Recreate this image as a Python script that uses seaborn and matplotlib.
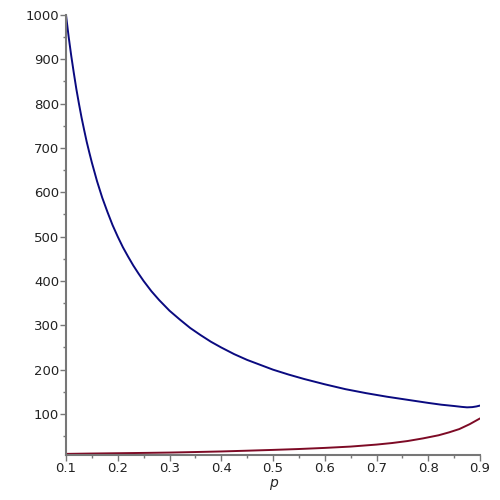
import numpy as np
import pandas as pd
import matplotlib
matplotlib.use('Agg')
import matplotlib.pyplot as plt
import seaborn as sns
from matplotlib.ticker import MultipleLocator

# values
p_blue = [0.100, 0.105, 0.110, 0.115, 0.120, 0.125, 0.130, 0.135, 0.140, 0.145,
          0.150, 0.160, 0.170, 0.180, 0.190, 0.200, 0.210, 0.220, 0.230, 0.240,
          0.250, 0.265, 0.280, 0.300, 0.320, 0.340, 0.360, 0.380, 0.400, 0.425,
          0.450, 0.475, 0.500, 0.530, 0.560, 0.600, 0.640, 0.680, 0.720, 0.760,
          0.800, 0.825, 0.850, 0.865, 0.875, 0.885, 0.893, 0.900]
blue = [1000, 952, 909, 870, 833, 800, 769, 741, 714, 690,
        667, 625, 588, 556, 526, 500, 476, 455, 435, 417,
        400, 377, 357, 333, 313, 294, 278, 263, 250, 235,
        222, 211, 200, 189, 179, 167, 156, 147, 139, 132,
        125, 121, 118, 116, 115, 115.5, 117, 119]

p_red = [0.10, 0.15, 0.20, 0.25, 0.30, 0.35, 0.40, 0.45, 0.50, 0.55,
         0.60, 0.65, 0.70, 0.73, 0.76, 0.79, 0.82, 0.84, 0.86, 0.88, 0.90]
red = [10, 10.8, 11.5, 12.2, 13, 14.2, 15.5, 17.2, 19, 21,
       23.5, 26.5, 31, 34.5, 39, 45, 52, 58.5, 66, 77, 90]

sns.set_style('white')
plt.rcParams['font.family'] = ['DejaVu Sans']

fig = plt.figure(figsize=(5, 5), dpi=100)
ax = fig.add_axes([0.132, 0.09, 0.828, 0.88])

sns.lineplot(x=p_blue, y=blue, ax=ax, color='#0a0a80', linewidth=1.4)
sns.lineplot(x=p_red, y=red, ax=ax, color='#7d0a25', linewidth=1.4)

ax.set_xlim(0.1, 0.9)
ax.set_ylim(7.5, 1000)
ax.xaxis.set_minor_locator(MultipleLocator(0.05))
ax.yaxis.set_minor_locator(MultipleLocator(50))
ax.set_yticks(range(100, 1001, 100))
ax.set_xticks([0.1, 0.2, 0.3, 0.4, 0.5, 0.6, 0.7, 0.8, 0.9])
ax.set_xticklabels(['0.1', '0.2', '0.3', '0.4', '0.5', '0.6', '0.7', '0.8', '0.9'])

for s in ['top', 'right']:
    ax.spines[s].set_visible(False)
for s in ['left', 'bottom']:
    ax.spines[s].set_color('#777777')
    ax.spines[s].set_linewidth(1.5)

ax.tick_params(which='major', direction='out', length=4, width=1, color='#777777',
               labelsize=9.5, labelcolor='#222222', pad=1)
ax.tick_params(which='minor', direction='out', length=2.5, width=1, color='#777777')
ax.tick_params(axis='x', which='both', bottom=True)
ax.tick_params(axis='y', which='both', left=True)

ax.set_xlabel('p', fontstyle='italic', fontsize=10, labelpad=1)
ax.set_ylabel('')

fig.savefig('out.png', dpi=100)
